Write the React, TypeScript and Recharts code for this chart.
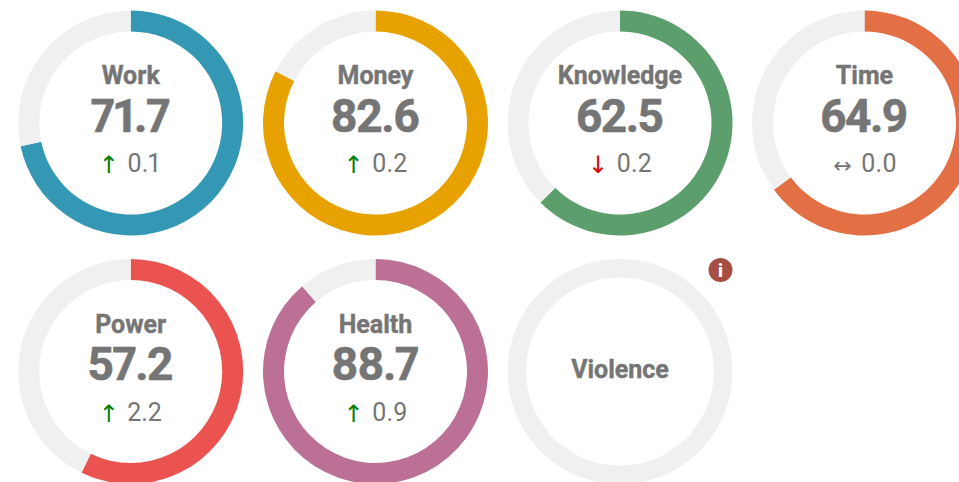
import React from "react";
import { PieChart, Pie, Cell } from "recharts";

const names = ["Work", "Money", "Knowledge", "Time", "Power", "Health", "Violence"];
const scores: (number | null)[] = [71.7, 82.6, 62.5, 64.9, 57.2, 88.7, null];
const deltas: (string | null)[] = ["0.1", "0.2", "0.2", "0.0", "2.2", "0.9", null];
const trends: (string | null)[] = ["up", "up", "down", "flat", "up", "up", null];
const colors = ["#3498b5", "#e8a200", "#5c9e6c", "#e36f44", "#eb5350", "#bc7096", "#f0f0f0"];

const TRACK = "#f0f0f0";
const TEXT = "#757575";
const FONT = "Roboto";
const CX = [130.7, 375.5, 620, 864.5];
const CY = [123, 371.5];
const R = 112.5;

const arrow = (t: string | null) => (t === "up" ? "↑" : t === "down" ? "↓" : "↔");
const arrowColor = (t: string | null) => (t === "up" ? "#008000" : t === "down" ? "#e00000" : TEXT);
const kern: React.CSSProperties = { fontKerning: "normal", textRendering: "optimizeLegibility", fontFeatureSettings: '"kern" 1, "pnum" 1' };

export default function App() {
  return (
    <div style={{ position: "absolute", left: 0, top: 0, width: 959, height: 482, overflow: "hidden", background: "#fff" }}>
      <PieChart width={959} height={482} margin={{ top: 0, right: 0, bottom: 0, left: 0 }}>
        {names.map((name, i) => {
          const score = scores[i];
          const cx = CX[i % 4];
          const cy = CY[Math.floor(i / 4)];
          const data = [
            { name, value: score ?? 0 },
            { name: "rest", value: 100 - (score ?? 0) },
          ];
          return (
            <Pie
              key={name}
              data={data}
              dataKey="value"
              cx={cx}
              cy={cy}
              outerRadius={R}
              innerRadius={score === null ? 94 : 91.5}
              startAngle={90}
              endAngle={-270}
              paddingAngle={0}
              stroke="none"
              isAnimationActive={false}
            >
              <Cell fill={colors[i]} />
              <Cell fill={TRACK} />
            </Pie>
          );
        })}
        {names.map((name, i) => {
          const score = scores[i];
          const cx = CX[i % 4];
          const cy = CY[Math.floor(i / 4)];
          if (score === null) {
            return (
              <text key={name} x={cx} y={cy + 6.5} textAnchor="middle" fontFamily={FONT} fontWeight={700} fontSize={25} fill={TEXT} stroke={TEXT} strokeWidth={0.4} style={kern}>
                {name}
              </text>
            );
          }
          return (
            <g key={name}>
              <text x={cx} y={cy - 39} textAnchor="middle" fontFamily={FONT} fontWeight={700} fontSize={25} fill={TEXT} stroke={TEXT} strokeWidth={0.4} style={kern}>
                {name}
              </text>
              <text x={cx - 1} y={cy + 8.5} textAnchor="middle" fontFamily={FONT} fontWeight={700} fontSize={46} fill={TEXT} stroke={TEXT} strokeWidth={0.6} style={{ ...kern, letterSpacing: "-1.5px" }}>
                {score.toFixed(1)}
              </text>
              <text x={cx - 22} y={cy + 50} textAnchor="middle" fontFamily="DejaVu Sans" fontSize={trends[i] === "flat" ? 22 : 24} fill={arrowColor(trends[i])}>
                {arrow(trends[i])}
              </text>
              <text x={cx - 3.5} y={cy + 49} textAnchor="start" fontFamily={FONT} fontSize={25} fill={TEXT} style={kern}>
                {deltas[i]}
              </text>
            </g>
          );
        })}
        <g>
          <circle cx={720.5} cy={270} r={12} fill="#a84f45" />
          <text x={720.5} y={276.5} textAnchor="middle" fontFamily={FONT} fontWeight={900} fontSize={18} fill="#fff">
            i
          </text>
        </g>
      </PieChart>
    </div>
  );
}
